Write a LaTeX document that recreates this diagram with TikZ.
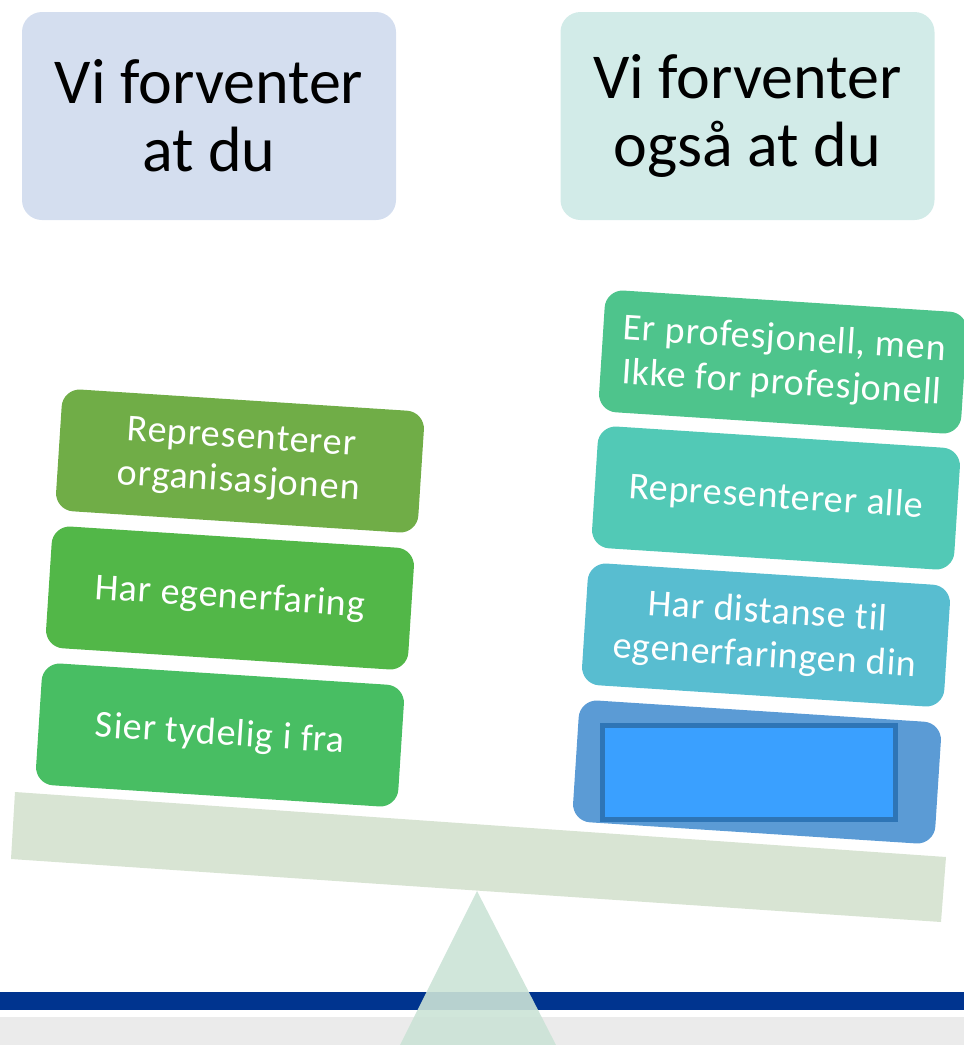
\documentclass[tikz,border=0pt]{standalone}
\usepackage{fontspec}
\setmainfont{Carlito}
\newfontfamily\weightfont[LetterSpace=2,Ligatures=NoCommon]{Carlito}
\usetikzlibrary{positioning}

\definecolor{headA}{HTML}{D4DEEF}
\definecolor{headB}{HTML}{D2EBE8}
\definecolor{greenA}{HTML}{70AD47}
\definecolor{greenB}{HTML}{52B748}
\definecolor{greenC}{HTML}{48BE63}
\definecolor{tealA}{HTML}{4EC48C}
\definecolor{tealB}{HTML}{52C9B6}
\definecolor{tealC}{HTML}{58BDD0}
\definecolor{blueA}{HTML}{5B9BD5}
\definecolor{blueFill}{HTML}{3AA0FF}
\definecolor{blueLine}{HTML}{2E75B6}
\definecolor{beam}{HTML}{D8E4D3}
\definecolor{fulcrum}{HTML}{CBE3D6}
\definecolor{band}{HTML}{00348F}
\definecolor{foot}{HTML}{EBEBEB}

\begin{document}
\begin{tikzpicture}[x=1pt,y=-1pt,
    head/.style={rounded corners=20pt,minimum width=374pt,minimum height=208pt,inner sep=0pt,
                 align=center,font=\fontsize{64}{68}\selectfont},
    weight/.style={rounded corners=18pt,minimum width=363pt,minimum height=122pt,inner sep=0pt,
                   align=center,text=white,rotate=-3.7,font=\weightfont\fontsize{38}{44}\selectfont}]
      \useasboundingbox (0,0) rectangle (964,1045);

      % headings
      \node[head,fill=headA](ForventerAt)   at (209,116)   {Vi forventer\\at du};
      \node[head,fill=headB](ForventerOgsa) at (747.5,116) {Vi forventer\\også at du};

      % the beam and the footer
      \fill[beam] (15,792) -- (946,857) -- (941,922) -- (11,859) -- cycle;
      \fill[band] (0,992) rectangle (964,1010);
      \fill[foot] (0,1017) rectangle (964,1045);
      \fill[fulcrum,opacity=.9] (477,891) -- (556,1045) -- (400,1045) -- cycle;

      % left pan
      \node[weight,fill=greenA](Organisasjonen) at (240,461) {Representerer\\organisasjonen};
      \node[weight,fill=greenB](Egenerfaring)   at (230,598) {Har egenerfaring};
      \node[weight,fill=greenC](Tydelig)        at (220,735) {Sier tydelig i fra};

      % right pan
      \node[weight,fill=tealA](Profesjonell) at (783,362) {Er profesjonell, men\\Ikke for profesjonell};
      \node[weight,fill=tealB](Alle)         at (776,498) {Representerer alle};
      \node[weight,fill=tealC](Distanse)     at (766,635) {Har distanse til\\egenerfaringen din};
      \node[weight,fill=blueA](Tom)          at (757,772) {};
      \node[draw=blueLine,line width=5pt,fill=blueFill,minimum width=293pt,minimum height=94pt,
            inner sep=0pt](TomFelt) at (749,772.5) {};

\end{tikzpicture}
\end{document}
